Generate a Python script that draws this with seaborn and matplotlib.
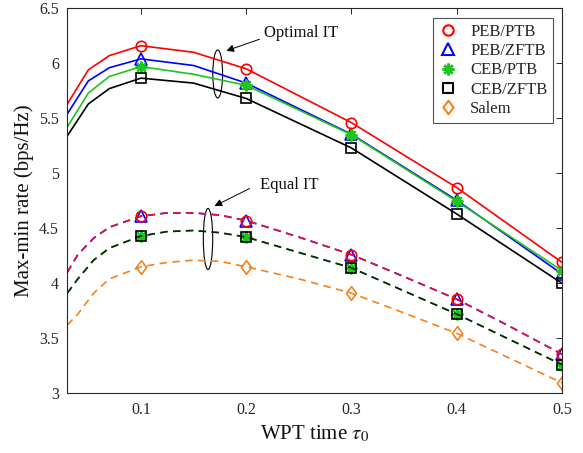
import numpy as np
import pandas as pd
import matplotlib
matplotlib.use("Agg")
import matplotlib.pyplot as plt
from matplotlib.patches import Ellipse
from matplotlib.lines import Line2D
from matplotlib.path import Path
import seaborn as sns

# ---------------- data ----------------
x_opt = [0.03, 0.05, 0.07, 0.1, 0.15, 0.2, 0.3, 0.4, 0.5]
peb_ptb_opt = [5.63, 5.94, 6.07, 6.16, 6.10, 5.95, 5.46, 4.87, 4.19]
peb_zftb_opt = [5.54, 5.84, 5.96, 6.04, 5.98, 5.82, 5.355, 4.755, 4.085]
ceb_ptb_opt = [5.42, 5.73, 5.88, 5.97, 5.90, 5.80, 5.35, 4.745, 4.115]
ceb_zftb_opt = [5.34, 5.63, 5.77, 5.865, 5.82, 5.68, 5.23, 4.63, 4.00]

x_eq = [0.03, 0.04, 0.055, 0.07, 0.1, 0.125, 0.15, 0.175, 0.2, 0.25, 0.3, 0.35, 0.4, 0.45, 0.5]
peb_ptb_eq = [4.10, 4.26, 4.41, 4.51, 4.61, 4.64, 4.64, 4.62, 4.57, 4.42, 4.26, 4.06, 3.855, 3.61, 3.355]
peb_zftb_eq = [4.10, 4.26, 4.41, 4.51, 4.61, 4.64, 4.64, 4.62, 4.57, 4.42, 4.26, 4.06, 3.855, 3.61, 3.355]
ceb_ptb_eq = [3.91, 4.04, 4.21, 4.32, 4.43, 4.47, 4.48, 4.46, 4.42, 4.28, 4.14, 3.93, 3.72, 3.49, 3.26]
ceb_zftb_eq = [3.91, 4.04, 4.21, 4.32, 4.43, 4.47, 4.48, 4.46, 4.42, 4.28, 4.14, 3.93, 3.72, 3.49, 3.26]
salem_eq = [3.62, 3.72, 3.91, 4.04, 4.15, 4.19, 4.21, 4.20, 4.15, 4.04, 3.91, 3.73, 3.545, 3.32, 3.095]

marker_x = [0.1, 0.2, 0.3, 0.4, 0.5]
legend_labels = ["PEB/PTB", "PEB/ZFTB", "CEB/PTB", "CEB/ZFTB", "Salem"]
xticks = [0.1, 0.2, 0.3, 0.4, 0.5]
yticks = [3, 3.5, 4, 4.5, 5, 5.5, 6, 6.5]

# ---------------- style ----------------
sns.set_theme(style="white")
plt.rcParams["font.family"] = ["Liberation Serif", "DejaVu Serif"]
plt.rcParams["mathtext.fontset"] = "stix"

RED = "#ff0000"
BLUE = "#0000ff"
GREEN = "#1fc41f"
BLACK = "#000000"
ORANGE = "#f5821f"
EQ_RED = "#e8143c"
EQ_BLACK = "#0c200c"

fig = plt.figure(figsize=(5.83, 4.53), dpi=100)
ax = fig.add_axes([0.1154, 0.1318, 0.8486, 0.8499])

LW = 1.2
DASH = (0, (4.5, 3.2))
MS = 7.5
MEW = 1.2

diamond = Path([(0, 1), (0.75, 0), (0, -1), (-0.75, 0), (0, 1)],
               [Path.MOVETO, Path.LINETO, Path.LINETO, Path.LINETO, Path.CLOSEPOLY])

markers = {
    "PEB/PTB": dict(marker="o", ms=MS, mew=MEW),
    "PEB/ZFTB": dict(marker="^", ms=MS + 0.5, mew=MEW),
    "CEB/PTB": dict(marker=(8, 2, 0), ms=MS + 1.0, mew=MEW + 0.3),
    "CEB/ZFTB": dict(marker="s", ms=MS - 0.5, mew=MEW),
    "Salem": dict(marker=diamond, ms=MS + 2.3, mew=MEW),
}
colors = {"PEB/PTB": RED, "PEB/ZFTB": BLUE, "CEB/PTB": GREEN, "CEB/ZFTB": BLACK, "Salem": ORANGE}


def draw(xs, ys, name, line_color, ls):
    df = pd.DataFrame({"x": xs, "y": ys})
    sns.lineplot(data=df, x="x", y="y", ax=ax, color=line_color, linewidth=LW,
                 linestyle=ls, estimator=None, sort=False)
    dm = df[df["x"].isin(marker_x)]
    m = markers[name]
    sns.lineplot(data=dm, x="x", y="y", ax=ax, linestyle="none", estimator=None,
                 marker=m["marker"], markersize=m["ms"], markerfacecolor="none",
                 markeredgecolor=colors[name], markeredgewidth=m["mew"], color=colors[name])


# Optimal IT (solid)
draw(x_opt, peb_zftb_opt, "PEB/ZFTB", BLUE, "-")
draw(x_opt, peb_ptb_opt, "PEB/PTB", RED, "-")
draw(x_opt, ceb_ptb_opt, "CEB/PTB", GREEN, "-")
draw(x_opt, ceb_zftb_opt, "CEB/ZFTB", BLACK, "-")

# Equal IT (dashed)
draw(x_eq, peb_zftb_eq, "PEB/ZFTB", BLUE, DASH)
draw(x_eq, peb_ptb_eq, "PEB/PTB", EQ_RED, DASH)
draw(x_eq, ceb_ptb_eq, "CEB/PTB", GREEN, DASH)
draw(x_eq, ceb_zftb_eq, "CEB/ZFTB", EQ_BLACK, DASH)
draw(x_eq, salem_eq, "Salem", ORANGE, DASH)

# ---------------- annotations ----------------
ax.add_patch(Ellipse((0.1729, 5.903), 0.0093, 0.436, fill=False, edgecolor="black", lw=0.8))
ax.add_patch(Ellipse((0.1637, 4.403), 0.0089, 0.555, fill=False, edgecolor="black", lw=0.8))
ax.annotate("", xy=(0.1786, 6.105), xytext=(0.2151, 6.227),
            arrowprops=dict(arrowstyle="-|>", color="black", lw=0.7, mutation_scale=11))
ax.annotate("", xy=(0.1675, 4.691), xytext=(0.2056, 4.873),
            arrowprops=dict(arrowstyle="-|>", color="black", lw=0.7, mutation_scale=11))
ax.text(0.2173, 6.273, "Optimal IT", fontsize=12, va="center", ha="left", color="#111111")
ax.text(0.2135, 4.894, "Equal IT", fontsize=12, va="center", ha="left", color="#111111")

# ---------------- axes ----------------
ax.set_xlim(0.03, 0.5)
ax.set_ylim(3, 6.5)
ax.set_xticks(xticks)
ax.set_xticklabels([f"{v:g}" for v in xticks])
ax.set_yticks(yticks)
ax.set_yticklabels([f"{v:g}" for v in yticks])
ax.tick_params(direction="in", top=True, right=True, length=4, width=0.7,
               labelsize=11.5, colors="#262626", pad=6)
for s in ax.spines.values():
    s.set_color("#262626")
    s.set_linewidth(0.8)
ax.set_xlabel(r"WPT time $\tau_{0}$", fontsize=15, color="#111111", labelpad=4)
ax.set_ylabel("Max-min rate (bps/Hz)", fontsize=15, color="#111111", labelpad=4)

handles = []
for name in legend_labels:
    m = markers[name]
    handles.append(Line2D([], [], linestyle="none", marker=m["marker"], markersize=m["ms"],
                          markerfacecolor="none", markeredgecolor=colors[name],
                          markeredgewidth=m["mew"] + 0.3))
leg = ax.legend(handles, legend_labels, loc="upper right", bbox_to_anchor=(0.982, 0.975),
                borderaxespad=0, fontsize=12, frameon=True, fancybox=False,
                handlelength=1.2, handletextpad=0.7, labelspacing=0.2, borderpad=0.35)
leg.get_frame().set_edgecolor("#262626")
leg.get_frame().set_linewidth(0.8)

fig.savefig("out.png", dpi=100)
